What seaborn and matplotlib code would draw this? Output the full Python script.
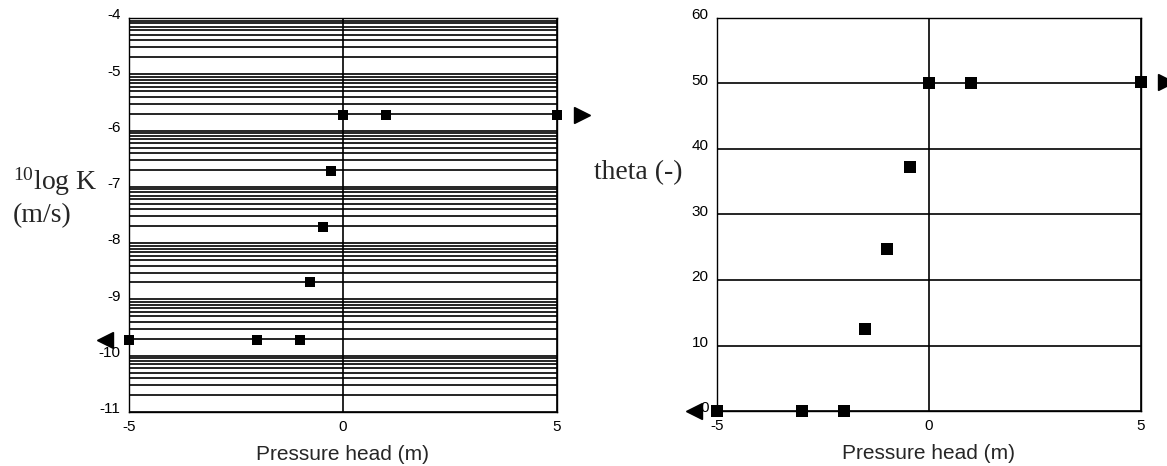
import numpy as np
import matplotlib
matplotlib.use("Agg")
import matplotlib.pyplot as plt
import matplotlib.transforms as mtransforms
import seaborn as sns

# Data
k_head = [-5, -2, -1, -0.77, -0.47, -0.28, 0, 1, 5]
log_k = [-9.72, -9.72, -9.72, -8.69, -7.71, -6.72, -5.72, -5.72, -5.72]

theta_head = [-5, -3, -2, -1.5, -1, -0.45, 0, 1, 5]
theta = [0, 0, 0, 12.5, 24.8, 37.3, 50, 50, 50.2]

x_ticks = [-5, 0, 5]
logk_ticks = [-4, -5, -6, -7, -8, -9, -10, -11]
theta_ticks = [0, 10, 20, 30, 40, 50, 60]

# Style
sns.set_style("white")
plt.rcParams["font.family"] = ["Liberation Sans", "DejaVu Sans"]
plt.rcParams["axes.unicode_minus"] = False
plt.rcParams["mathtext.fontset"] = "custom"
plt.rcParams["mathtext.rm"] = "Liberation Serif"

fig = plt.figure(figsize = (11.67, 4.66), dpi = 100)
ax1 = fig.add_axes([0.1105, 0.1159, 0.3668, 0.8455])
ax2 = fig.add_axes([0.6144, 0.1180, 0.3633, 0.8434])

grid_kw = dict(color = "black", linewidth = 1.2)
label_up = mtransforms.ScaledTranslation(0, 3 / 72, fig.dpi_scale_trans)


def style_axes(ax):
    for s in ax.spines.values():
        s.set_color("black")
        s.set_linewidth(1.0)
    ax.tick_params(length = 0, labelsize = 11, colors = "black")
    ax.tick_params(axis = "y", pad = 6)
    ax.tick_params(axis = "x", pad = 6)
    ax.set_xlim(-5, 5)
    ax.set_xticks(x_ticks)
    ax.set_xlabel("Pressure head (m)", fontsize = 15, labelpad = 8)
    ax.set_ylabel("")
    for lab in ax.get_yticklabels():
        lab.set_transform(lab.get_transform() + label_up)
    for coll in ax.collections:
        coll.set_clip_on(False)


# Chart 1: log K
ax1.set_ylim(-11, -4)
ax1.set_yticks(logk_ticks)
minor = [d + np.log10(k) for d in range(-11, -4) for k in range(2, 10)]
ax1.set_yticks(minor, minor = True)
ax1.tick_params(which = "minor", length = 0)
ax1.grid(axis = "y", which = "both", **grid_kw)
ax1.grid(axis = "x", which = "major", **grid_kw)
ax1.set_axisbelow(True)
sns.scatterplot(x = k_head, y = log_k, ax = ax1, marker = "s", s = 55,
                color = "black", edgecolor = "black", linewidth = 0, zorder = 3)
style_axes(ax1)

# Chart 2: theta
ax2.set_ylim(0, 60)
ax2.set_yticks(theta_ticks)
ax2.grid(axis = "both", which = "major", **grid_kw)
ax2.set_axisbelow(True)
sns.scatterplot(x = theta_head, y = theta, ax = ax2, marker = "s", s = 65,
                color = "black", edgecolor = "black", linewidth = 0, zorder = 3)
style_axes(ax2)

# Arrows beyond the axis limits
for ax, y in ((ax1, log_k), (ax2, theta)):
    ax.plot([x_ticks[0] - 0.55], [y[0]], marker = "<", markersize = 12,
            color = "black", clip_on = False, linestyle = "none")
    ax.plot([x_ticks[-1] + 0.58], [y[-1]], marker = ">", markersize = 12,
            color = "black", clip_on = False, linestyle = "none")

# Serif axis titles
fig.text(0.011, 1 - 182 / 466, r"$\mathregular{^{10}}$log K", fontsize = 20,
         family = "Liberation Serif", ha = "left", va = "center")
fig.text(0.011, 1 - 216 / 466, "(m/s)", fontsize = 20,
         family = "Liberation Serif", ha = "left", va = "center")
fig.text(0.509, 1 - 173 / 466, "theta (-)", fontsize = 20,
         family = "Liberation Serif", ha = "left", va = "center")

fig.savefig("out.png", dpi = 100)
plt.close(fig)
